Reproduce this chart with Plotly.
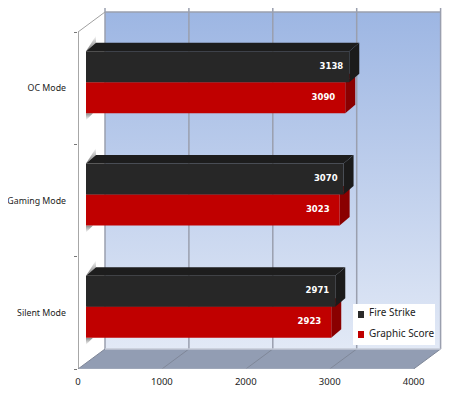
import plotly.graph_objects as go

# chart values, bottom row first
categories = ["Silent Mode", "Gaming Mode", "OC Mode"]
fire_strike = [2971, 3070, 3138]
graphic_score = [2923, 3023, 3090]
value_ticks = [0, 1000, 2000, 3000, 4000]
row_edges = [0, 1, 2, 3]

# px scale of the front plane (page px, the page has an 8px body margin)
PX_PER_VALUE = 0.0839
PX_PER_ROW = 112.33
LEFT, BOTTOM = 78, 369
PAGE = 8


def dx(px):
    return px / PX_PER_VALUE


def dy(px):
    return px / PX_PER_ROW


def px_x(px):
    return (px - LEFT) / PX_PER_VALUE


def px_y(px):
    return (BOTTOM - px) / PX_PER_ROW


DEPTH_X, DEPTH_Y = dx(27), dy(20)
BASE_X, BASE_Y = dx(8), dy(6)
BAR_X, BAR_Y = dx(10), dy(8.5)
BAR_H = dy(31)
X_MAX = 4000
Y_MAX = 3

FONT = "Noto Sans"
GRID = "#9a9fae"

fig = go.Figure()


def poly(xs, ys, color):
    fig.add_trace(go.Scatter(x=xs + xs[:1], y=ys + ys[:1], mode="lines", fill="toself",
                             fillcolor=color, line=dict(width=0), hoverinfo="skip", showlegend=False))


def line(xs, ys, color, width=1.0):
    fig.add_trace(go.Scatter(x=xs, y=ys, mode="lines", line=dict(color=color, width=width),
                             hoverinfo="skip", showlegend=False))


def shadow(xs, ys, low, high):
    fig.add_trace(go.Scatter(
        x=xs + xs[:1], y=ys + ys[:1], mode="lines", fill="toself", line=dict(width=0),
        hoverinfo="skip", showlegend=False,
        fillgradient=dict(type="vertical", colorscale=[[0, low], [1, high]]),
    ))


# back wall with gradient
shadow([DEPTH_X, X_MAX + DEPTH_X, X_MAX + DEPTH_X, DEPTH_X],
       [DEPTH_Y, DEPTH_Y, Y_MAX + DEPTH_Y, Y_MAX + DEPTH_Y], "#e2e9f6", "#9db6e3")

# floor
poly([0, X_MAX, X_MAX + DEPTH_X, DEPTH_X], [0, 0, DEPTH_Y, DEPTH_Y], "#929db3")

# gridlines on wall and floor
for v in value_ticks:
    line([v + DEPTH_X, v + DEPTH_X], [DEPTH_Y, Y_MAX + DEPTH_Y + dy(4)], GRID, 1.5)
    line([v, v + DEPTH_X], [0, DEPTH_Y], "#7f8798", 1)
line([DEPTH_X, X_MAX + DEPTH_X], [Y_MAX + DEPTH_Y] * 2, GRID, 1.5)
line([DEPTH_X, X_MAX + DEPTH_X], [DEPTH_Y] * 2, "#c4cad6", 1.5)
line([0, X_MAX], [0, 0], "#aab1bf", 1)

# left wall edges
line([0, 0], [0, Y_MAX], "#8a8a8a", 1.5)
line([0, DEPTH_X], [Y_MAX, Y_MAX + DEPTH_Y], "#a0a0a0", 1)

# bars, one row at a time
for i in range(len(categories)):
    mid = i + 0.5 + BASE_Y
    x0 = BASE_X
    y_top = mid + BAR_H
    y_bot = mid - BAR_H
    # shadows on the left wall, above and below the bar
    shadow([x0, x0 + BAR_X, x0 + BAR_X],
           [y_top, y_top + BAR_Y, y_top + BAR_Y + dy(7)], "#707070", "#ffffff")
    shadow([x0, x0 + dx(7), x0],
           [y_bot, y_bot, y_bot - dy(7)], "#ffffff", "#8a8a8a")
    for value, y0, y1, front, side, cap in [
        (graphic_score[i], mid - BAR_H, mid, "#c00000", "#8a0000", "#c00000"),
        (fire_strike[i], mid, mid + BAR_H, "#272727", "#1b1b1b", "#1d1d1d"),
    ]:
        x1 = x0 + value
        poly([x1, x1 + BAR_X, x1 + BAR_X, x1], [y0, y0 + BAR_Y, y1 + BAR_Y, y1], side)
        poly([x0, x1, x1 + BAR_X, x0 + BAR_X], [y1, y1, y1 + BAR_Y, y1 + BAR_Y], cap)
        poly([x0, x1, x1, x0], [y0, y0, y1, y1], front)

# value labels
fig.add_trace(go.Scatter(
    x=[v + BASE_X - dx(6) for v in fire_strike],
    y=[i + 0.5 + BASE_Y + BAR_H / 2 for i in range(len(categories))],
    mode="text", text=[str(v) for v in fire_strike], textposition="middle left",
    textfont=dict(family="DejaVu Sans", size=8.5, color="white", weight="bold"),
    hoverinfo="skip", showlegend=False,
))
fig.add_trace(go.Scatter(
    x=[v + BASE_X - dx(10) for v in graphic_score],
    y=[i + 0.5 + BASE_Y - BAR_H / 2 for i in range(len(categories))],
    mode="text", text=[str(v) for v in graphic_score], textposition="middle left",
    textfont=dict(family="DejaVu Sans", size=8.5, color="white", weight="bold"),
    hoverinfo="skip", showlegend=False,
))

# legend box
poly([px_x(353), px_x(435), px_x(435), px_x(353)], [px_y(304), px_y(304), px_y(345), px_y(345)], "white")
poly([px_x(358), px_x(364), px_x(364), px_x(358)], [px_y(311), px_y(311), px_y(318), px_y(318)], "#2b2b2b")
poly([px_x(358), px_x(364), px_x(364), px_x(358)], [px_y(331), px_y(331), px_y(338), px_y(338)], "#c00000")
for name, py in [("Fire Strike", 312), ("Graphic Score", 333)]:
    fig.add_annotation(x=px_x(367), y=px_y(py), text=name, showarrow=False, xanchor="left", yanchor="middle",
                       font=dict(family=FONT, size=10, color="#222222"))

fig.update_layout(
    width=450 - PAGE, height=400 - PAGE,
    margin=dict(l=LEFT - PAGE, r=0, t=0, b=400 - BOTTOM, pad=0, autoexpand=False),
    paper_bgcolor="white", plot_bgcolor="white",
    showlegend=False,
    font=dict(family=FONT, size=10, color="#222222"),
    xaxis=dict(range=[0, px_x(450)], tickvals=value_ticks, showgrid=False, zeroline=False, showline=False,
               ticks="", ticklabelstandoff=5, automargin=False, tickfont=dict(family=FONT, size=9.5)),
    yaxis=dict(range=[0, px_y(PAGE)], tickvals=[i + 0.5 for i in range(len(categories))], ticktext=categories,
               showgrid=False, zeroline=False, showline=False, ticks="", ticklabelstandoff=11, automargin=False,
               minor=dict(tickvals=row_edges, ticks="outside", ticklen=3, tickcolor="#777777", showgrid=False),
               tickfont=dict(family=FONT, size=8.8)),
)

fig.write_html("out.html", config={"displayModeBar": False})
